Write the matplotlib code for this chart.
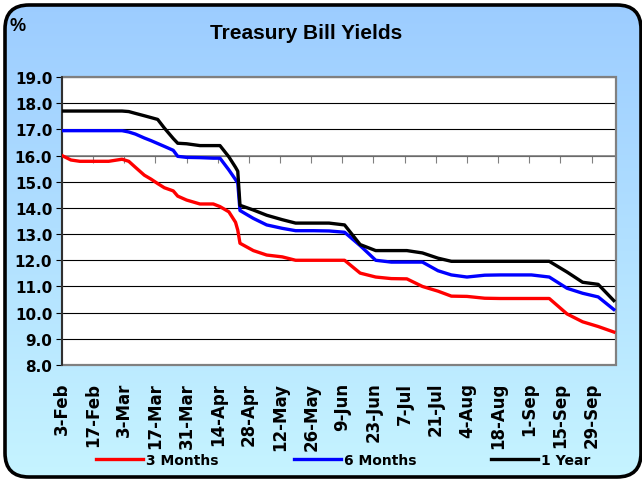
import numpy as np
import pandas as pd
import matplotlib
matplotlib.use("Agg")
import matplotlib.pyplot as plt
from matplotlib.patches import FancyBboxPatch, Rectangle

# data (weekly-ish auction dates)
dates = ["2003-02-03", "2003-02-07", "2003-02-11", "2003-02-17", "2003-02-24", "2003-03-02",
         "2003-03-05", "2003-03-08", "2003-03-12", "2003-03-15", "2003-03-18", "2003-03-21",
         "2003-03-25", "2003-03-27", "2003-03-31", "2003-04-06", "2003-04-12", "2003-04-15",
         "2003-04-19", "2003-04-22", "2003-04-23", "2003-04-24", "2003-04-30", "2003-05-06",
         "2003-05-13", "2003-05-19", "2003-05-27", "2003-06-03", "2003-06-10", "2003-06-17",
         "2003-06-24", "2003-07-01", "2003-07-08", "2003-07-15", "2003-07-22", "2003-07-28",
         "2003-08-04", "2003-08-12", "2003-08-19", "2003-08-26", "2003-09-02", "2003-09-10",
         "2003-09-18", "2003-09-25", "2003-10-02", "2003-10-09"]

m3 = [16.0, 15.83, 15.78, 15.78, 15.78, 15.86, 15.78, 15.55, 15.25, 15.1, 14.93, 14.77,
      14.65, 14.45, 14.3, 14.15, 14.15, 14.05, 13.85, 13.45, 13.15, 12.65, 12.37, 12.2,
      12.13, 12.0, 12.0, 12.0, 12.0, 11.51, 11.36, 11.3, 11.29, 11.0, 10.82, 10.63,
      10.62, 10.55, 10.54, 10.54, 10.54, 10.54, 9.95, 9.65, 9.47, 9.26]
m6 = [16.95, 16.95, 16.95, 16.95, 16.95, 16.95, 16.9, 16.82, 16.67, 16.57, 16.46, 16.35,
      16.2, 15.97, 15.93, 15.92, 15.9, 15.9, 15.45, 15.08, 14.95, 13.9, 13.6, 13.35,
      13.22, 13.13, 13.13, 13.12, 13.07, 12.56, 12.0, 11.93, 11.93, 11.93, 11.6, 11.44,
      11.36, 11.43, 11.44, 11.44, 11.44, 11.36, 10.93, 10.74, 10.6, 10.12]
yr1 = [17.7, 17.7, 17.7, 17.7, 17.7, 17.7, 17.68, 17.61, 17.52, 17.45, 17.38, 17.05,
       16.65, 16.47, 16.45, 16.38, 16.38, 16.38, 15.95, 15.55, 15.4, 14.1, 13.92, 13.72,
       13.55, 13.42, 13.42, 13.42, 13.35, 12.6, 12.37, 12.37, 12.37, 12.28, 12.08, 11.96,
       11.96, 11.96, 11.96, 11.96, 11.96, 11.96, 11.55, 11.16, 11.08, 10.46]

series_names = ["3 Months", "6 Months", "1 Year"]
series_colors = ["#ff0000", "#0000ff", "#000000"]

tick_dates = pd.date_range("2003-02-03", periods=18, freq="14D")
tick_labels = [d.strftime("%-d-%b") for d in tick_dates]

W, H = 642, 481
fig = plt.figure(figsize=(W / 100, H / 100), dpi=100)
fig.patch.set_facecolor("white")

# background panel with gradient and rounded black border
bg = fig.add_axes([0, 0, 1, 1])
bg.set_xlim(0, W)
bg.set_ylim(H, 0)
bg.axis("off")
box = FancyBboxPatch((5, 6), W - 6, H - 9, boxstyle="round,pad=0,rounding_size=24",
                     facecolor="none", edgecolor="black", linewidth=2.6, zorder=3)
top = np.array([156, 204, 255]) / 255
bot = np.array([198, 244, 255]) / 255
t = np.linspace(0, 1, 256)[:, None]
grad = (top[None, :] * (1 - t) + bot[None, :] * t)[:, None, :]
im = bg.imshow(grad, extent=(0, W, H, 0), aspect="auto", zorder=1)
bg.add_patch(box)
im.set_clip_path(box)

fig.text(306 / W, 1 - 39 / H, "Treasury Bill Yields", ha="center", va="baseline",
         fontsize=15, fontweight="bold", family="Liberation Sans")
fig.text(10 / W, 1 - 31 / H, "%", ha="left", va="baseline", fontsize=13,
         fontweight="bold", family="Liberation Sans")

ax = fig.add_axes([62 / W, 1 - 366 / H, 554 / W, 288 / H])
ax.set_facecolor("white")
x = pd.to_datetime(dates)
for vals, name, col in zip([m3, m6, yr1], series_names, series_colors):
    ax.plot(x, vals, color=col, linewidth=2.4, label=name, zorder=3)

ax.set_ylim(8, 19)
ax.set_yticks(np.arange(8, 19.5, 1))
ax.set_yticklabels([f"{v:.1f}" for v in np.arange(8, 19.5, 1)], fontsize=11, fontweight="bold")
ax.set_xlim(pd.Timestamp("2003-02-03"), pd.Timestamp("2003-10-10"))
ax.set_xticks(tick_dates)
ax.tick_params(axis="x", labelbottom=False, direction="out", length=5, color="#808080")
ax.tick_params(axis="y", direction="out", length=4, pad=3)
ax.yaxis.grid(True, color="black", linewidth=0.8)
ax.set_axisbelow(True)

ax.spines["bottom"].set_position(("data", 16))
ax.spines["bottom"].set_color("#808080")
ax.spines["bottom"].set_linewidth(1.2)
ax.spines["bottom"].set_zorder(2)
ax.spines["top"].set_visible(False)
ax.spines["right"].set_visible(False)
ax.spines["left"].set_color("#202020")
ax.spines["left"].set_linewidth(1.2)
ax.add_patch(Rectangle((0, 0), 1, 1, transform=ax.transAxes, fill=False,
                       edgecolor="#808080", linewidth=1.6, clip_on=False, zorder=1))

# date labels sit below the plot area
ax2 = ax.twiny()
ax2.set_xlim(ax.get_xlim())
ax2.xaxis.set_ticks_position("bottom")
ax2.set_xticks(tick_dates)
ax2.set_xticklabels(tick_labels, rotation=90, fontsize=12, fontweight="bold")
ax2.tick_params(axis="x", length=0, pad=12)
for s in ax2.spines.values():
    s.set_visible(False)
ax2.patch.set_visible(False)

h, l = ax.get_legend_handles_labels()
fig.legend(h, l, loc="center left", bbox_to_anchor=(96 / W, 1 - 461 / H), ncol=3,
           frameon=False, borderpad=0, borderaxespad=0, handlelength=3.4,
           handletextpad=0.2, columnspacing=5.4, prop={"weight": "bold", "size": 10})

fig.savefig("out.png", dpi=100)
